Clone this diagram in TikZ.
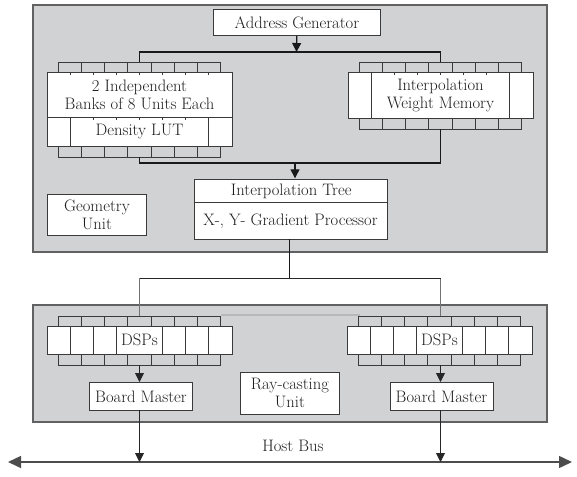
\documentclass[tikz,border=0pt]{standalone}
\usetikzlibrary{arrows.meta,calc}
\definecolor{panel}{HTML}{D1D2D4}
\definecolor{edge}{HTML}{3A3A3A}
\definecolor{txt}{HTML}{1E1E1E}
\begin{document}
\begin{tikzpicture}[x=1pt,y=-1pt,
  panelbox/.style={fill=panel, draw=black!62, line width=1.6pt, inner sep=0pt, anchor=north west},
  box/.style={fill=white, draw=edge, line width=0.9pt, inner sep=0pt, text=txt,
              font=\fontsize{16.6}{18}\selectfont, align=center},
  cell/.style={fill=panel, draw=edge, line width=0.9pt},
  tick/.style={draw=edge, line width=0.8pt},
  wire/.style={draw=black!90, line width=1.2pt},
  thinwire/.style={draw=black!85, line width=0.9pt},
  arr/.style={-{Triangle[width=9pt,length=9pt]}},
  lbl/.style={text=txt, font=\fontsize{16.6}{18}\selectfont, align=center, inner sep=0pt}
]
\useasboundingbox (0,0) rectangle (577,476);

% panels
\node[panelbox, minimum width=514pt, minimum height=247pt] (toppanel) at (32,4) {};
\node[panelbox, minimum width=514pt, minimum height=117pt] (botpanel) at (32,304) {};

% address generator
\node[box, anchor=north west, minimum width=167pt, minimum height=26pt] (ag) at (213,9) {Address Generator};

% ---- left bank (density LUT)
\foreach \k in {0,...,6} {
  \draw[cell] ({58.5625+\k*23.125},62) rectangle ++(23.125,10);
  \draw[cell] ({58.5625+\k*23.125},146) rectangle ++(23.125,11);
}
\node[box, anchor=north west, minimum width=185pt, minimum height=74pt] (lbank) at (47,72) {};
\draw[tick] (47,117) -- (232,117);
\draw[tick] (70.125,117) -- (70.125,146);
\draw[tick] (208.875,117) -- (208.875,146);
\foreach \k in {1,...,7} {
  \draw[tick] ({47+\k*23.125},72) -- ++(0,3);
  \draw[tick] ({47+\k*23.125},117) -- ++(0,3);
}
\node[lbl] (ltext) at (139.5,95) {2 Independent\\Banks of 8 Units Each};
\node[lbl] (lut) at (139.5,131.5) {Density LUT};

% ---- right bank (weight memory)
\foreach \k in {0,...,6} {
  \draw[cell] ({359.5625+\k*23.125},62) rectangle ++(23.125,10);
  \draw[cell] ({359.5625+\k*23.125},118) rectangle ++(23.125,11);
}
\node[box, anchor=north west, minimum width=185pt, minimum height=46pt] (rbank) at (348,72) {};
\draw[tick] (371.125,72) -- (371.125,118);
\draw[tick] (509.875,72) -- (509.875,118);
\foreach \k in {2,...,6} {
  \draw[tick] ({348+\k*23.125},72) -- ++(0,3);
}
\node[lbl] (rtext) at (440.5,95) {Interpolation\\Weight Memory};

% top connectors
\coordinate (lbT) at (139.5,62);
\coordinate (rbT) at (440.5,62);
\coordinate (jT) at (296.5,52);
\draw[wire] (lbT) |- (jT) -| (rbT);
\draw[wire,arr] (ag) -- (jT);

% interpolation tree
\node[box, anchor=north west, minimum width=193pt, minimum height=60pt] (itree) at (194,179) {};
\node[box, line width=1.4pt, anchor=north west, minimum width=193pt, minimum height=23pt] (itop) at (194,179) {Interpolation Tree};
\node[lbl] (grad) at (290.5,221) {X-, Y- Gradient Processor};

\coordinate (lbB) at (139.5,157);
\coordinate (rbB) at (440.5,129);
\coordinate (jB) at (295,163);
\coordinate (itIn) at (295,178.3);
\draw[wire] (lbB) |- (jB) -| (rbB);
\draw[wire,arr] (jB) -- (itIn);

% geometry unit
\node[box, anchor=north west, minimum width=99pt, minimum height=41pt] (geo) at (47,194) {Geometry\\Unit};

% link to lower panel
\coordinate (itOut) at (289.5,239);
\coordinate (jM) at (289.5,278);
\coordinate (cl) at (139.5,278);
\coordinate (cr) at (440.5,278);
\coordinate (dlT) at (139.5,316);
\coordinate (drT) at (440.5,316);
\draw[wire, line width=1.8pt] (itOut) -- (jM);
\draw[thinwire, draw=black!55] (dlT) -- (cl);
\draw[thinwire, draw=black!55] (drT) -- (cr);
\draw[thinwire] (cl) -- (cr);
\coordinate (gl) at (221.4,315);
\coordinate (gr) at (359.6,315);
\draw[draw=black!28, line width=1.2pt] (gl) -- (gr);

% ---- DSP banks
\foreach \x/\n in {47/dspl, 347/dspr} {
  \foreach \k in {0,...,6} {
    \draw[cell] ({\x+11.5625+\k*23.125},316) rectangle ++(23.125,10);
    \draw[cell] ({\x+11.5625+\k*23.125},354) rectangle ++(23.125,11);
  }
  \node[box, anchor=north west, minimum width=185pt, minimum height=28pt] (\n) at (\x,326) {};
  \foreach \k in {1,2,3,5,6,7} {
    \draw[tick] ({\x+\k*23.125},326) -- ++(0,28);
  }
  \node[lbl] (\n text) at ({\x+92.5},340) {DSPs};
}

% board masters
\node[box, anchor=north, minimum width=103pt, minimum height=28pt] (bm1) at (141,382) {Board Master};
\node[box, anchor=north, minimum width=103pt, minimum height=28pt] (bm2) at (441.5,382) {Board Master};
\coordinate (dlB) at (139.5,365);
\coordinate (drB) at (440.5,365);
\coordinate (bm1T) at (139.5,382);
\coordinate (bm2T) at (440.5,382);
\draw[thinwire,arr] (dlB) -- (bm1T);
\draw[thinwire,arr] (drB) -- (bm2T);

% ray-casting unit
\node[box, anchor=north west, minimum width=99pt, minimum height=42pt] (ray) at (240,372) {Ray-casting\\Unit};

% host bus
\coordinate (busL) at (8,462);
\coordinate (busR) at (572,462);
\coordinate (bm1B) at (139.5,410);
\coordinate (bm2B) at (440.5,410);
\coordinate (b1) at (139.5,462);
\coordinate (b2) at (440.5,462);
\draw[line width=1.4pt, draw=black!70, {Triangle[width=12pt,length=13pt]}-{Triangle[width=12pt,length=13pt]}] (busL) -- (busR);
\draw[thinwire,arr] (bm1B) -- (b1);
\draw[thinwire,arr] (bm2B) -- (b2);
\node[lbl] (hb) at (293,446) {Host Bus};
\end{tikzpicture}
\end{document}
